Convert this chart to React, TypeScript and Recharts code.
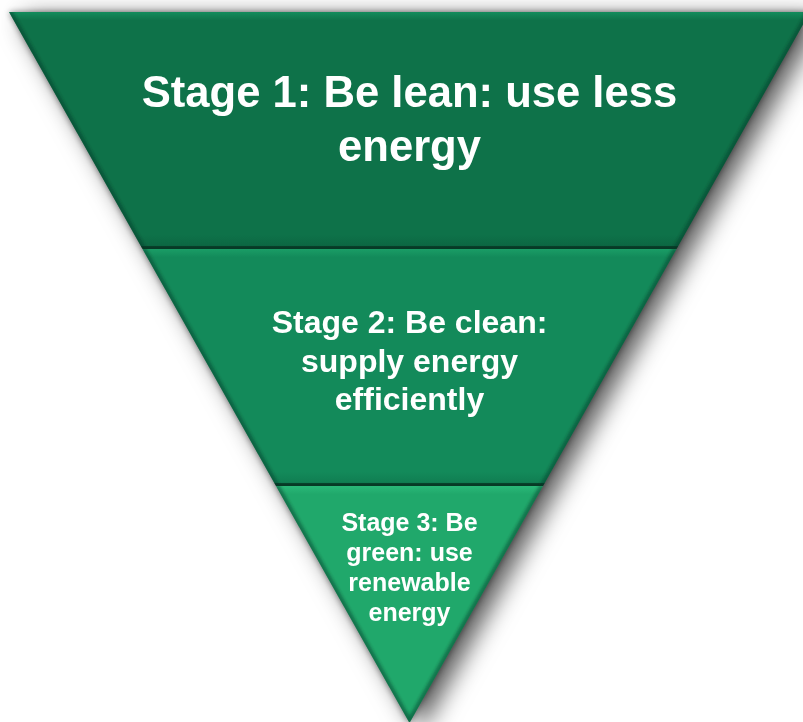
import { FunnelChart, Funnel } from "recharts";

const stageNames = ["Stage 1", "Stage 2", "Stage 3"];
const stageValues = [3, 2, 1];
const stageLines = [
  ["Stage 1: Be lean: use less", "energy"],
  ["Stage 2: Be clean:", "supply energy", "efficiently"],
  ["Stage 3: Be", "green: use", "renewable", "energy"],
];

const data = stageNames.map((name, i) => ({
  name,
  value: stageValues[i],
  lines: stageLines[i],
}));

// per-stage look
const fills = [
  { top: "#138c5c", body: "#0e7249", bottom: "#0c6843" },
  { top: "#1a9d66", body: "#138a5a", bottom: "#107e52" },
  { top: "#2ab878", body: "#20a86b", bottom: "#1c9c64" },
];
const textStyle = [
  { fontSize: 43.6, first: 95, step: 54 },
  { fontSize: 32, first: 84, step: 38.5 },
  { fontSize: 25, first: 44.5, step: 30.3 },
];

const Segment = (props: any) => {
  const { x, y, upperWidth, lowerWidth, height } = props;
  const name = props.name ?? props.payload?.name;
  const i = Math.max(0, stageNames.indexOf(name));
  const lines: string[] = props.payload?.lines ?? stageLines[i];
  const f = fills[i];
  const t = textStyle[i];
  const x4 = x + (upperWidth - lowerWidth) / 2;
  const x3 = x + (upperWidth + lowerWidth) / 2;
  const yb = y + height;
  const d = `M${x},${y} L${x + upperWidth},${y} L${x3},${yb} L${x4},${yb} Z`;
  const cx = x + upperWidth / 2;
  return (
    <g>
      <defs>
        <linearGradient id={`seg-grad-${i}`} x1="0" y1="0" x2="0" y2="1">
          <stop offset="0" stopColor={f.top} />
          <stop offset="0.035" stopColor={f.body} />
          <stop offset="0.94" stopColor={f.body} />
          <stop offset="0.985" stopColor={f.bottom} />
          <stop offset="0.99" stopColor={i < 2 ? "#073a26" : f.bottom} />
          <stop offset="1" stopColor={i < 2 ? "#073a26" : f.bottom} />
        </linearGradient>
        <clipPath id={`seg-clip-${i}`}>
          <path d={d} />
        </clipPath>
      </defs>
      <path d={d} fill={`url(#seg-grad-${i})`} />
      <g clipPath={`url(#seg-clip-${i})`}>
        <path
          d={`M${x4},${yb} L${x},${y} M${x + upperWidth},${y} L${x3},${yb}`}
          fill="none"
          stroke="#03301e"
          strokeOpacity={0.45}
          strokeWidth={7}
          filter="url(#bevel-soft)"
        />
      </g>
      {lines.map((line, k) => (
        <text
          key={k}
          x={cx}
          y={y + t.first + k * t.step}
          textAnchor="middle"
          fill="#ffffff"
          fontSize={t.fontSize}
          fontWeight="bold"
          fontFamily="'Liberation Sans', Arial, sans-serif"
        >
          {line}
        </text>
      ))}
    </g>
  );
};

export default function App() {
  return (
    <div
      style={{
        position: "absolute",
        left: 0,
        top: 0,
        width: 803,
        height: 722,
        overflow: "hidden",
        background: "#ffffff",
      }}
    >
      <div
        style={{
          position: "absolute",
          left: 9,
          top: 12,
          filter:
            "drop-shadow(0px 0px 3px rgba(0,0,0,0.45)) drop-shadow(12px 6px 12px rgba(0,0,0,0.65))",
        }}
      >
        <FunnelChart width={801} height={711} margin={{ top: 0, right: 0, bottom: 0, left: 0 }}>
          <defs>
            <filter id="bevel-soft" x="-10%" y="-10%" width="120%" height="120%">
              <feGaussianBlur stdDeviation="1.6" />
            </filter>
          </defs>
          <Funnel
            dataKey="value"
            nameKey="name"
            data={data}
            isAnimationActive={false}
            shape={Segment}
          />
        </FunnelChart>
      </div>
    </div>
  );
}
